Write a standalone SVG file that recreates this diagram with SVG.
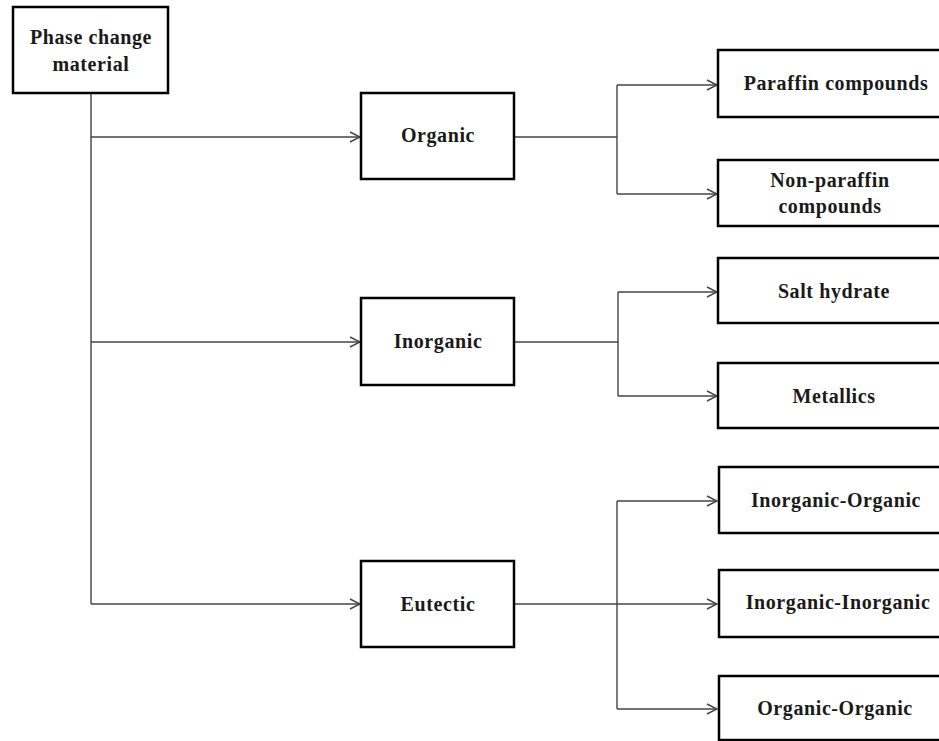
<svg xmlns="http://www.w3.org/2000/svg" width="939" height="741" viewBox="0 0 939 741">
<style>
.box{fill:#fff;stroke:#000;stroke-width:2.5}
.t{font-family:"Liberation Serif","Times New Roman",serif;font-weight:bold;font-size:20px;fill:#1a1a1a;text-anchor:middle;letter-spacing:0.6px}
.c{fill:none;stroke:#444;stroke-width:1.4}
</style>
<defs>
<marker id="ah" viewBox="0 0 12 12" refX="11" refY="6" markerWidth="12" markerHeight="12" markerUnits="userSpaceOnUse" orient="auto">
<path d="M1,1 L11,6 L1,11" fill="none" stroke="#444" stroke-width="1.4"/>
</marker>
</defs>
<rect width="939" height="741" fill="#fff"/>
<g id="connectors">
<path class="c" d="M91,93 V604"/>
<path class="c" d="M91,137 H360" marker-end="url(#ah)"/>
<path class="c" d="M91,342 H360" marker-end="url(#ah)"/>
<path class="c" d="M91,604 H360" marker-end="url(#ah)"/>
<path class="c" d="M514,137 H617" stroke-width="2"/>
<path class="c" d="M617,85 V194"/>
<path class="c" d="M617,85 H717" marker-end="url(#ah)"/>
<path class="c" d="M617,194 H717" marker-end="url(#ah)"/>
<path class="c" d="M514,342 H618"/>
<path class="c" d="M618,292 V396"/>
<path class="c" d="M618,292 H717" marker-end="url(#ah)"/>
<path class="c" d="M618,396 H717" marker-end="url(#ah)"/>
<path class="c" d="M514,604 H717" marker-end="url(#ah)"/>
<path class="c" d="M617,501 V709"/>
<path class="c" d="M617,501 H717" marker-end="url(#ah)"/>
<path class="c" d="M617,709 H717" marker-end="url(#ah)"/>
</g>
<g id="pcm"><rect class="box" x="13" y="7" width="155" height="86"/><text class="t" x="91" y="44">Phase change</text><text class="t" x="91" y="71">material</text></g>
<g id="organic"><rect class="box" x="361" y="93" width="153" height="86"/><text class="t" x="438" y="142">Organic</text></g>
<g id="inorganic"><rect class="box" x="361" y="298" width="153" height="87"/><text class="t" x="438" y="348">Inorganic</text></g>
<g id="eutectic"><rect class="box" x="361" y="561" width="153" height="86"/><text class="t" x="438" y="611">Eutectic</text></g>
<g id="paraffin"><rect class="box" x="718" y="50" width="236" height="67"/><text class="t" x="836" y="90">Paraffin compounds</text></g>
<g id="nonparaffin"><rect class="box" x="718" y="160" width="236" height="66"/><text class="t" x="830" y="187">Non-paraffin</text><text class="t" x="830" y="213">compounds</text></g>
<g id="salt"><rect class="box" x="718" y="258" width="236" height="65"/><text class="t" x="834" y="298">Salt hydrate</text></g>
<g id="metallics"><rect class="box" x="718" y="363" width="236" height="65"/><text class="t" x="834" y="403">Metallics</text></g>
<g id="inorg-org"><rect class="box" x="719" y="467" width="236" height="66"/><text class="t" x="836" y="507">Inorganic-Organic</text></g>
<g id="inorg-inorg"><rect class="box" x="719" y="570" width="236" height="67"/><text class="t" x="838" y="609">Inorganic-Inorganic</text></g>
<g id="org-org"><rect class="box" x="719" y="676" width="236" height="64"/><text class="t" x="835" y="715">Organic-Organic</text></g>
</svg>
